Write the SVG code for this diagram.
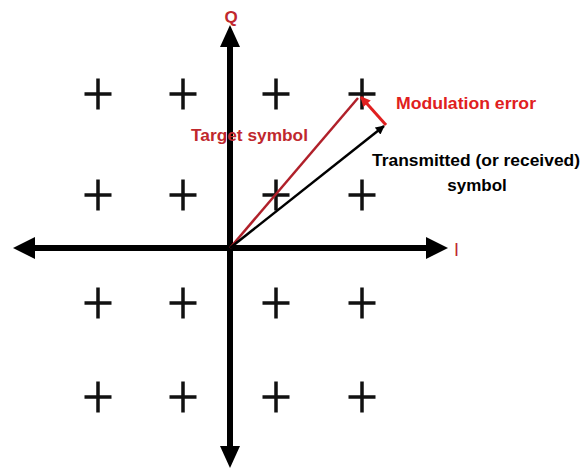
<svg xmlns="http://www.w3.org/2000/svg" width="582" height="468" viewBox="0 0 582 468">
<style>
.plus{stroke:#111;stroke-width:3.5;fill:none}
.axis{stroke:#000;stroke-width:6}
.head{fill:#000}
.lbl{font-family:"Liberation Sans",Arial,sans-serif;font-weight:bold}
.red{fill:#c0282d}
</style>
<defs>
<path id="p" d="M-13.5 0H13.5M0 -15.5V15.5"/>
<marker id="ab" viewBox="0 0 10 10" refX="9" refY="5" markerWidth="10" markerHeight="9" markerUnits="userSpaceOnUse" orient="auto"><path d="M0 0L10 5L0 10z" fill="#000"/></marker>
<marker id="ar" viewBox="0 0 10 10" refX="9" refY="5" markerWidth="11" markerHeight="10" markerUnits="userSpaceOnUse" orient="auto"><path d="M0 0L10 5L0 10z" fill="#e02020"/></marker>
</defs>
<rect width="582" height="468" fill="#fff"/>
<g id="constellation" class="plus">
<use href="#p" x="98" y="94"/><use href="#p" x="183" y="94"/><use href="#p" x="276" y="94"/><use href="#p" x="362" y="94"/>
<use href="#p" x="98" y="195"/><use href="#p" x="183" y="195"/><use href="#p" x="276" y="195"/><use href="#p" x="362" y="195"/>
<use href="#p" x="98" y="303"/><use href="#p" x="183" y="303"/><use href="#p" x="276" y="303"/><use href="#p" x="362" y="303"/>
<use href="#p" x="98" y="397"/><use href="#p" x="183" y="397"/><use href="#p" x="276" y="397"/><use href="#p" x="362" y="397"/>
</g>
<g id="axes">
<line class="axis" x1="230" y1="40" x2="230" y2="458"/>
<line class="axis" x1="30" y1="248" x2="432" y2="248"/>
<path class="head" d="M230 25L240 47H220z"/>
<path class="head" d="M230 468L240 446H220z"/>
<path class="head" d="M13 248L35 237V259z"/>
<path class="head" d="M448 248L426 237V259z"/>
</g>
<g id="connectors">
<line x1="230" y1="248" x2="358" y2="98" stroke="#b0202a" stroke-width="2.5"/>
<line x1="230" y1="248" x2="384" y2="126" stroke="#000" stroke-width="2.5" marker-end="url(#ab)"/>
<line x1="386" y1="125" x2="361" y2="97" stroke="#e02020" stroke-width="3" marker-end="url(#ar)"/>
</g>
<g id="labels">
<text class="lbl red" x="231" y="23" font-size="17" text-anchor="middle">Q</text>
<text x="454" y="256" font-family="Liberation Sans,Arial,sans-serif" font-size="18" fill="#c0282d">I</text>
<text class="lbl red" x="191" y="141" font-size="17" textLength="117" lengthAdjust="spacingAndGlyphs">Target symbol</text>
<text class="lbl" x="396" y="109" font-size="17" fill="#e02020" textLength="140" lengthAdjust="spacingAndGlyphs">Modulation error</text>
<text class="lbl" x="476" y="166" font-size="17" fill="#000" text-anchor="middle" textLength="208" lengthAdjust="spacingAndGlyphs">Transmitted (or received)</text>
<text class="lbl" x="477" y="191" font-size="17" fill="#000" text-anchor="middle">symbol</text>
</g>
</svg>
